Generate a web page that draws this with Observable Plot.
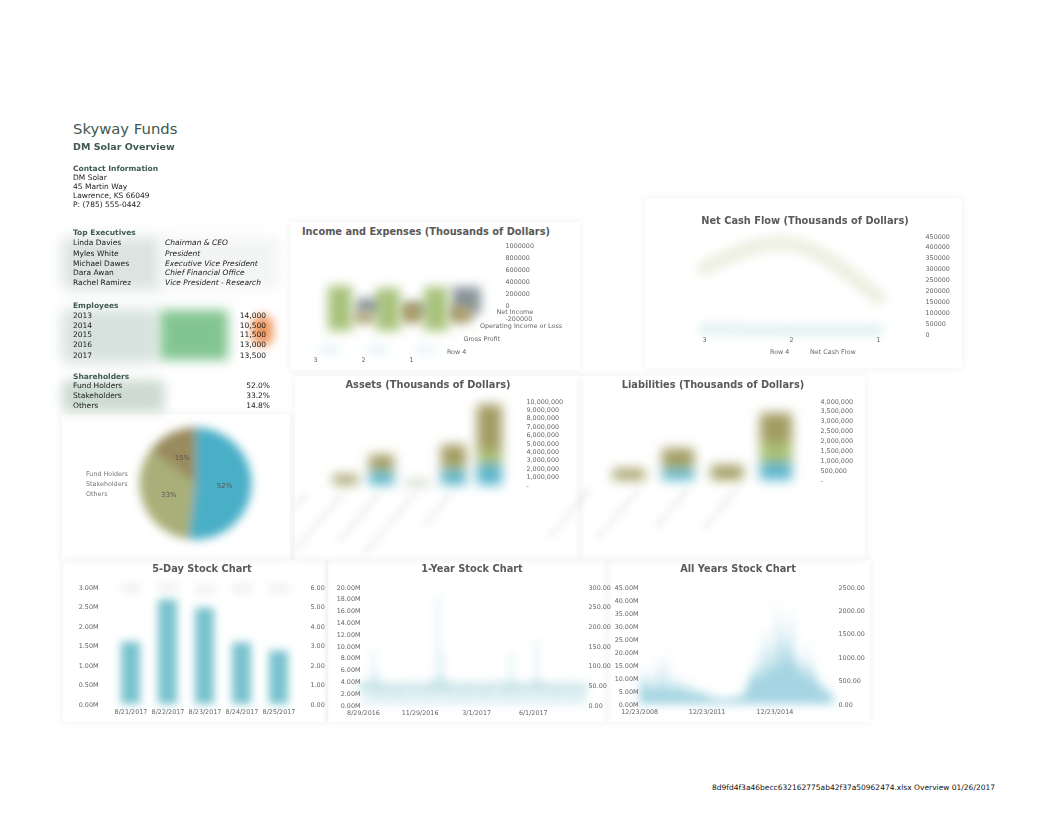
<!DOCTYPE html>
<html><head><meta charset="utf-8"><title>DM Solar Overview</title>
<script src="https://cdn.jsdelivr.net/npm/d3@7"></script>
<script src="https://cdn.jsdelivr.net/npm/@observablehq/plot@0.6"></script>
<style>
html,body{margin:0;padding:0;background:#fff;overflow:hidden;}
#page{position:relative;width:1062px;height:821px;font-family:"DejaVu Sans",sans-serif;}
.abs{position:absolute;white-space:nowrap;line-height:1;}
.plotbox{will-change:transform;}
</style></head><body><div id="page"></div>
<script>
// ---------------- data ----------------
const companyName = "Skyway Funds";
const overviewTitle = "DM Solar Overview";
const contactLines = ["DM Solar", "45 Martin Way", "Lawrence, KS  66049", "P: (785) 555-0442"];
const execNames = ["Linda Davies", "Myles White", "Michael Dawes", "Dara Awan", "Rachel Ramirez"];
const execTitles = ["Chairman & CEO", "President", "Executive Vice President", "Chief Financial Office", "Vice President - Research"];
const empYears = ["2013", "2014", "2015", "2016", "2017"];
const empCounts = [14000, 10500, 11500, 13000, 13500];
const holderNames = ["Fund Holders", "Stakeholders", "Others"];
const holderShares = [52.0, 33.2, 14.8];

const incomeYears = ["3", "2", "1"];
const incomeSeries = ["Net Income", "Operating Income or Loss", "Gross Profit", "Row 4"];
const incomeNet = [250000, 150000, 440000];
const incomeOperating = [170000, 330000, 280000];
const incomeGross = [740000, 700000, 720000];
const incomeRow4 = [80000, 80000, 70000];
const incomeTicks = [-200000, 0, 200000, 400000, 600000, 800000, 1000000];

const cashYears = ["3", "2", "1"];
const cashSeries = ["Row 4", "Net Cash Flow"];
const netCashFlow = [305000, 415000, 170000];
const cashRow4 = [25000, 20000, 20000];
const cashTicks = [0, 50000, 100000, 150000, 200000, 250000, 300000, 350000, 400000, 450000];

const assetCats = ["Cash", "Accounts Receivable", "Prepaid Expenses", "Property & Equipment", "Total Assets"];
const stackSeries = ["2015", "2016", "2017"];
const assetBlue = [50000, 1600000, 100000, 1800000, 2500000];
const assetGreen = [150000, 400000, 100000, 500000, 1600000];
const assetOlive = [1000000, 1600000, 200000, 2500000, 5500000];
const assetTicks = [0, 1000000, 2000000, 3000000, 4000000, 5000000, 6000000, 7000000, 8000000, 9000000, 10000000];

const liabCats = ["Accounts Payable", "Accrued Expenses", "Notes Payable", "Total Liabilities"];
const liabBlue = [0, 550000, 0, 900000];
const liabGreen = [50000, 200000, 50000, 1000000];
const liabOlive = [500000, 850000, 700000, 1500000];
const liabTicks = [0, 500000, 1000000, 1500000, 2000000, 2500000, 3000000, 3500000, 4000000];

const fiveDayDates = ["8/21/2017", "8/22/2017", "8/23/2017", "8/24/2017", "8/25/2017"];
const fiveDayVolume = [1600000, 2680000, 2470000, 1580000, 1370000];
const fiveDayHigh = [6.05, 6.10, 6.00, 6.05, 6.05];
const fiveDayLow = [5.80, 5.85, 5.75, 5.80, 5.80];
const fiveVolTicks = [0, 500000, 1000000, 1500000, 2000000, 2500000, 3000000];
const fivePriceTicks = [0, 1, 2, 3, 4, 5, 6];

const oneYearVolume = [3.1, 2.6, 9.5, 6.0, 3.2, 2.4, 2.1, 2.8, 2.5, 2.2, 1.9, 2.6, 2.3, 2.0, 2.4, 2.9, 3.8, 18.5, 9.0, 4.2,
  3.0, 2.6, 2.1, 2.4, 2.9, 2.2, 2.0, 2.5, 3.1, 2.2, 2.0, 2.6, 2.2, 3.0, 9.0, 3.1, 2.2, 2.5, 2.0, 2.3,
  11.0, 3.2, 2.4, 2.1, 2.8, 2.2, 2.0, 2.6, 2.1, 2.0, 2.4, 2.1];
const oneYearClose = [48, 50, 52, 47, 45, 44, 46, 43, 42, 44, 45, 47, 46, 44, 43, 45, 48, 55, 52, 49,
  47, 46, 45, 44, 46, 47, 45, 44, 43, 45, 46, 48, 47, 45, 50, 48, 46, 45, 44, 47,
  52, 49, 47, 46, 45, 44, 43, 45, 46, 44, 43, 45];
const oneYearVolTicks = [0, 2e6, 4e6, 6e6, 8e6, 10e6, 12e6, 14e6, 16e6, 18e6, 20e6];
const oneYearPriceTicks = [0, 50, 100, 150, 200, 250, 300];
const oneYearDateTicks = ["2016-08-29", "2016-11-29", "2017-03-01", "2017-06-01"];

const allYearsVolume = [
  6, 9, 14, 8, 5, 7, 12, 6, 4, 8, 18, 7,
  5, 9, 20, 6, 4, 7, 11, 5, 6, 10, 8, 5,
  4, 6, 9, 5, 3, 7, 4, 5, 3, 4, 6, 3,
  3, 2, 4, 2, 3, 2, 2, 3, 2, 1.5, 2, 2,
  2, 3, 2, 2, 3, 4, 3, 2, 5, 6, 9, 12,
  10, 15, 8, 22, 12, 9, 18, 30, 14, 11, 25, 13,
  16, 40, 20, 12, 35, 18, 28, 14, 22, 38, 15, 19,
  12, 20, 9, 15, 11, 24, 8, 13, 17, 10, 7, 12,
  6, 8, 5, 4, 7, 5, 3, 4];
const allYearsVolTicks = [0, 5e6, 10e6, 15e6, 20e6, 25e6, 30e6, 35e6, 40e6, 45e6];
const allYearsPriceTicks = [0, 500, 1000, 1500, 2000, 2500];
const allYearsDateTicks = ["2008-12-23", "2011-12-23", "2014-12-23"];

const footerText = "8d9fd4f3a46becc632162775ab42f37a50962474.xlsx Overview 01/26/2017";

// ---------------- helpers ----------------
const page = document.getElementById("page");
const NS = "http://www.w3.org/2000/svg";
let filterCount = 0;
const baseStyle = {background: "transparent", overflow: "visible", fontFamily: "DejaVu Sans, sans-serif", fontSize: "6.4px", color: "#666"};

function txt(x, cy, s, o = {}) {
  const fs = o.size || 7.5;
  const d = document.createElement("div");
  d.className = "abs";
  d.textContent = s;
  d.style.left = x + "px";
  d.style.top = (cy - 0.53 * fs) + "px";
  d.style.fontSize = fs + "px";
  if (o.bold) d.style.fontWeight = "bold";
  if (o.italic) d.style.fontStyle = "italic";
  d.style.color = o.color || "#1a1a1a";
  if (o.anchor === "end") d.style.transform = "translateX(-100%)";
  if (o.anchor === "middle") d.style.transform = "translateX(-50%)";
  d.style.zIndex = 5;
  page.appendChild(d);
  return d;
}
function soft(x, y, w, h, color, blur) {
  const d = document.createElement("div");
  d.style.cssText = `position:absolute;left:${x}px;top:${y}px;width:${w}px;height:${h}px;background:${color};filter:blur(${blur}px);border-radius:6px;z-index:0`;
  page.appendChild(d);
}
function frame(x, y, w, h) {
  const d = document.createElement("div");
  d.style.cssText = `position:absolute;left:${x}px;top:${y}px;width:${w}px;height:${h}px;box-shadow:0 0 7px 1px rgba(0,0,0,0.05);z-index:0`;
  page.appendChild(d);
}
function place(svg, x, y, w) {
  const d = document.createElement("div");
  d.className = "plotbox";
  d.style.cssText = `position:absolute;left:${x}px;top:${y}px;width:${w}px;z-index:2`;
  d.appendChild(svg);
  page.appendChild(d);
}
// blur every mark group whose (default) aria-label matches
function blur(svg, label, sd) {
  const id = "bl" + (filterCount++);
  const defs = document.createElementNS(NS, "defs");
  const f = document.createElementNS(NS, "filter");
  f.setAttribute("id", id);
  f.setAttribute("filterUnits", "userSpaceOnUse");
  f.setAttribute("x", -150); f.setAttribute("y", -150);
  f.setAttribute("width", 700); f.setAttribute("height", 500);
  const g = document.createElementNS(NS, "feGaussianBlur");
  g.setAttribute("stdDeviation", sd);
  f.appendChild(g); defs.appendChild(f);
  svg.appendChild(defs);
  svg.querySelectorAll(`g[aria-label="${label}"]`).forEach(el => el.setAttribute("filter", `url(#${id})`));
}
function title(cx, cy, s) { txt(cx, cy, s, {size: 9.8, bold: true, color: "#595959", anchor: "middle"}); }

// ---------------- frames & soft backgrounds ----------------
frame(290, 222, 290, 148);
frame(645, 198, 317, 170);
frame(295, 376, 285, 184);
frame(580, 376, 285, 184);
frame(63, 560, 262, 162);
frame(328, 560, 279, 162);
frame(607, 560, 263, 162);
frame(62, 414, 228, 146);
soft(62, 237, 100, 53, "#dbe4e1", 7);
soft(160, 237, 120, 53, "#f3f5f4", 7);
soft(62, 309, 96, 54, "#d7e2de", 7);
soft(62, 380, 103, 32, "#cddbd2", 6);

// ---------------- left panel text ----------------
const hdr = "#3e5a50";
txt(73, 130, companyName, {size: 14.8, color: "#40594f"});
txt(73, 147, overviewTitle, {size: 9.5, bold: true, color: hdr});
txt(73, 169, "Contact Information", {size: 7.5, bold: true, color: hdr});
contactLines.forEach((s, i) => txt(73, [178, 187, 196, 205][i], s));
txt(73, 232.5, "Top Executives", {size: 7.5, bold: true, color: hdr});
const execY = [242.7, 253.5, 263.6, 273.3, 283.3];
execNames.forEach((s, i) => { txt(73, execY[i], s); txt(165, execY[i], execTitles[i], {italic: true}); });
txt(73, 305.5, "Employees", {size: 7.5, bold: true, color: hdr});
const empY = [315.7, 325.6, 334.6, 344.6, 356.3];
const fmt = d3.format(",");
empYears.forEach((s, i) => { txt(73, empY[i], s); txt(266, empY[i], fmt(empCounts[i]), {anchor: "end"}); });
txt(73, 376.5, "Shareholders", {size: 7.5, bold: true, color: hdr});
const holderY = [386.3, 396.3, 406.3];
holderNames.forEach((s, i) => { txt(73, holderY[i], s); txt(270, holderY[i], holderShares[i].toFixed(1) + "%", {anchor: "end"}); });

// employees: cell fills + highlight of low counts
{
  const rows = empYears.map((year, i) => ({year, count: empCounts[i]}));
  const p = Plot.plot({
    width: 150, height: 70, margin: 0, style: baseStyle,
    x: {type: "band", domain: ["Trend", "Count"], range: [10, 146], padding: 0, axis: null},
    y: {type: "band", domain: empYears, range: [8, 62], padding: 0, axis: null},
    marks: [
      Plot.cell(rows, {x: () => "Trend", y: "year", fill: "#82c592", inset: 0}),
      Plot.dot(rows.filter(d => d.count < 12000), {x: () => "Count", y: "year", r: 11, fill: "#ec8f52", fillOpacity: 0.85, stroke: "none"})
    ]
  });
  blur(p, "cell", 6); blur(p, "dot", 5);
  place(p, 150, 300, 150);
}

// ---------------- pie ----------------
{
  const arcs = d3.pie().sort(null)(holderShares);
  const pts = [];
  arcs.forEach((a, k) => {
    pts.push({name: holderNames[k], x: 0, y: 0});
    const n = Math.max(4, Math.ceil((a.endAngle - a.startAngle) / 0.03));
    for (let j = 0; j <= n; j++) {
      const t = a.startAngle + (a.endAngle - a.startAngle) * j / n;
      pts.push({name: holderNames[k], x: Math.sin(t), y: Math.cos(t)});
    }
    pts.push({name: holderNames[k], x: 0, y: 0});
  });
  const labels = arcs.map((a, k) => {
    const m = (a.startAngle + a.endAngle) / 2;
    return {x: 0.52 * Math.sin(m), y: 0.52 * Math.cos(m), text: Math.round(holderShares[k]) + "%"};
  });
  const p = Plot.plot({
    width: 140, height: 132, margin: 0, style: baseStyle,
    x: {domain: [-1.25, 1.25], axis: null},
    y: {domain: [-1.179, 1.179], axis: null},
    color: {domain: holderNames, range: ["#4aafc7", "#a9af78", "#998b5d"]},
    marks: [
      Plot.line(pts, {x: "x", y: "y", z: "name", fill: "name", stroke: "none"}),
      Plot.text(labels, {x: "x", y: "y", text: "text", fill: "#555", fontSize: 7})
    ]
  });
  blur(p, "line", 5);
  place(p, 125, 417, 140);
  holderNames.forEach((s, i) => txt(86, [474, 484, 494][i], s, {size: 6.4, color: "#777"}));
}

// ---------------- Income and Expenses ----------------
title(426, 232, "Income and Expenses (Thousands of Dollars)");
{
  const geom = [{off: 1.15, w: 0.6, dy: 8}, {off: 1.02, w: 0.48, dy: 17}, {off: 0.52, w: 0.5, dy: 25}, {off: 0.30, w: 0.45, dy: 46}];
  const lists = [incomeNet, incomeOperating, incomeGross, incomeRow4];
  const rows = incomeSeries.flatMap((s, si) => incomeYears.map((yr, i) => ({series: s, si, yr, i, value: lists[si][i]})));
  const p = Plot.plot({
    width: 280, height: 130, marginTop: 7, marginBottom: 50, marginLeft: 0, marginRight: 73, style: baseStyle,
    x: {domain: [-20 / 48, 187 / 48], axis: null},
    y: {domain: [-200000, 1000000], axis: null},
    color: {domain: incomeSeries, range: ["#86939a", "#a99b69", "#a8c27c", "#d2eaf0"]},
    marks: [
      ...incomeSeries.map((s, si) => Plot.rect(rows.filter(d => d.si === si), {
        x1: d => d.i + geom[si].off - geom[si].w / 2,
        x2: d => d.i + geom[si].off + geom[si].w / 2,
        y1: 0, y2: "value", fill: "series", dy: geom[si].dy
      })),
      Plot.axisY(incomeTicks, {anchor: "right", tickSize: 0, tickPadding: 3, label: null, tickFormat: d => String(d)}),
      Plot.text(incomeYears.map((yr, i) => ({yr, i})), {x: "i", text: "yr", frameAnchor: "bottom", dy: 43, fill: "#666"}),
      ...incomeSeries.map((s, si) => Plot.text([s], {x: () => 3.77 - 0.344 * si, y: 0, text: d => d, textAnchor: "start", dy: 6 + 13.3 * si, fill: "#666"}))
    ]
  });
  blur(p, "rect", 5.5);
  place(p, 295, 238, 280);
}

// ---------------- Net Cash Flow ----------------
title(805, 221, "Net Cash Flow (Thousands of Dollars)");
{
  const rows = cashYears.map((yr, i) => ({yr, net: netCashFlow[i], row4: cashRow4[i]}));
  const p = Plot.plot({
    width: 300, height: 140, marginTop: 11, marginBottom: 31, marginLeft: 10, marginRight: 28, style: baseStyle,
    x: {type: "point", domain: cashYears},
    y: {domain: [0, 450000]},
    marks: [
      Plot.line(rows, {x: "yr", y: "row4", stroke: "#e3f2f3", strokeWidth: 12, curve: "natural"}),
      Plot.line(rows, {x: "yr", y: "net", stroke: "#eef0e2", strokeWidth: 16, curve: "natural"}),
      Plot.axisY(cashTicks, {anchor: "right", tickSize: 0, tickPadding: 3, label: null, tickFormat: d => String(d)}),
      Plot.axisX({tickSize: 0, tickPadding: 3, label: null})
    ]
  });
  blur(p, "line", 5);
  place(p, 650, 225, 300);
  txt(770, 352, cashSeries[0], {size: 6.4, color: "#666"});
  txt(810, 352, cashSeries[1], {size: 6.4, color: "#666"});
}

// ---------------- Assets / Liabilities ----------------
const stackColors = ["#5bb6cc", "#a9bf72", "#a29b62"];
function stackChart(cats, lists, ticks, ymax, xrange, pad, mb, mr) {
  const rows = stackSeries.flatMap((s, si) => cats.map((c, ci) => ({series: s, cat: c, value: lists[si][ci]})));
  const p = Plot.plot({
    width: 270, height: 150, marginTop: 6, marginBottom: mb, marginLeft: 0, marginRight: mr, style: baseStyle,
    x: {type: "band", domain: cats, range: xrange, padding: pad, axis: null},
    y: {domain: [0, ymax]},
    color: {domain: stackSeries, range: stackColors},
    marks: [
      Plot.barY(rows, {x: "cat", y: "value", fill: "series"}),
      Plot.text(cats, {x: d => d, text: d => d, frameAnchor: "bottom", rotate: -50, textAnchor: "end", dx: -38, dy: 10, fill: "#cfcfcf", fontSize: 7}),
      Plot.axisY(ticks, {anchor: "right", tickSize: 0, tickPadding: 3, label: null, tickFormat: d => d === 0 ? "-" : d3.format(",")(d)})
    ]
  });
  blur(p, "bar", 6);
  blur(p, "text", 3.5);
  return p;
}
title(428, 385, "Assets (Thousands of Dollars)");
place(stackChart(assetCats, [assetBlue, assetGreen, assetOlive], assetTicks, 10000000, [20, 216], 0.3, 60, 47), 300, 395, 270);
title(713, 385, "Liabilities (Thousands of Dollars)");
place(stackChart(liabCats, [liabBlue, liabGreen, liabOlive], liabTicks, 4000000, [5, 220], 0.35, 65, 43), 590, 395, 270);

// ---------------- 5-Day Stock ----------------
title(202, 569, "5-Day Stock Chart");
{
  const k = 500000;
  const rows = fiveDayDates.map((date, i) => ({date, vol: fiveDayVolume[i], high: fiveDayHigh[i], low: fiveDayLow[i]}));
  const p = Plot.plot({
    width: 262, height: 140, marginTop: 7, marginBottom: 16, marginLeft: 36, marginRight: 20, style: baseStyle,
    x: {type: "band", domain: fiveDayDates, padding: 0.5},
    y: {domain: [0, 3000000]},
    marks: [
      Plot.ruleX(rows, {x: "date", y1: d => d.low * k, y2: d => d.high * k, stroke: "#e4e4e4", strokeWidth: 20}),
      Plot.barY(rows, {x: "date", y: "vol", fill: "#79c2ce"}),
      Plot.axisY(fiveVolTicks, {anchor: "left", tickSize: 0, tickPadding: 3, label: null, tickFormat: d => (d / 1e6).toFixed(2) + "M"}),
      Plot.axisY(fivePriceTicks.map(v => v * k), {anchor: "right", tickSize: 0, tickPadding: 3, label: null, tickFormat: d => (d / k).toFixed(2)}),
      Plot.axisX({tickSize: 0, tickPadding: 5, label: null})
    ]
  });
  blur(p, "bar", 4.5); blur(p, "rule", 5);
  place(p, 65, 580, 262);
}

// ---------------- 1-Year Stock ----------------
title(472, 569, "1-Year Stock Chart");
{
  const k = 20e6 / 300;
  const weeks = d3.utcMonday.range(new Date("2016-08-29"), new Date("2017-08-28"));
  const rows = weeks.map((date, i) => ({date, vol: oneYearVolume[i] * 1e6, close: oneYearClose[i]}));
  const p = Plot.plot({
    width: 275, height: 140, marginTop: 7, marginBottom: 15, marginLeft: 33, marginRight: 20, style: baseStyle,
    x: {type: "utc", domain: [new Date("2016-08-29"), new Date("2017-08-25")]},
    y: {domain: [0, 20e6]},
    marks: [
      Plot.line(rows, {x: "date", y: d => d.close * k, stroke: "#d6eaed", strokeWidth: 12}),
      Plot.rect(rows, {x1: "date", x2: d => d3.utcDay.offset(d.date, 5), y1: 0, y2: "vol", fill: "#a9d8e0", fillOpacity: 0.45}),
      Plot.axisY(oneYearVolTicks, {anchor: "left", tickSize: 0, tickPadding: 3, label: null, tickFormat: d => (d / 1e6).toFixed(2) + "M"}),
      Plot.axisY(oneYearPriceTicks.map(v => v * k), {anchor: "right", tickSize: 0, tickPadding: 3, label: null, tickFormat: d => (d / k).toFixed(2)}),
      Plot.axisX(oneYearDateTicks.map(s => new Date(s)), {tickSize: 0, tickPadding: 5, label: null, tickFormat: d3.utcFormat("%-m/%-d/%Y")})
    ]
  });
  blur(p, "line", 4.5); blur(p, "rect", 4);
  place(p, 330, 580, 275);
}

// ---------------- All Years Stock ----------------
title(738, 569, "All Years Stock Chart");
{
  const k = 45e6 / 2500;
  const months = d3.utcMonth.range(new Date("2009-01-01"), new Date("2017-09-01"));
  const rows = months.map((date, i) => ({date, vol: allYearsVolume[i] * 1e6}));
  const p = Plot.plot({
    width: 255, height: 140, marginTop: 7, marginBottom: 16, marginLeft: 29, marginRight: 30, style: baseStyle,
    x: {type: "utc", domain: [new Date("2008-12-20"), new Date("2017-08-31")]},
    y: {domain: [0, 45e6]},
    marks: [
      Plot.areaY(rows, {x: "date", y: "vol", fill: "#4bacc6", fillOpacity: 0.5}),
      Plot.axisY(allYearsVolTicks, {anchor: "left", tickSize: 0, tickPadding: 1, label: null, tickFormat: d => (d / 1e6).toFixed(2) + "M"}),
      Plot.axisY(allYearsPriceTicks.map(v => v * k), {anchor: "right", tickSize: 0, tickPadding: 3, label: null, tickFormat: d => (d / k).toFixed(2)}),
      Plot.axisX(allYearsDateTicks.map(s => new Date(s)), {tickSize: 0, tickPadding: 5, label: null, tickFormat: d3.utcFormat("%-m/%-d/%Y")})
    ]
  });
  blur(p, "area", 5);
  place(p, 610, 580, 255);
}

// ---------------- footer ----------------
txt(712, 788, footerText, {size: 7.5, color: "#111"});
</script></body></html>
